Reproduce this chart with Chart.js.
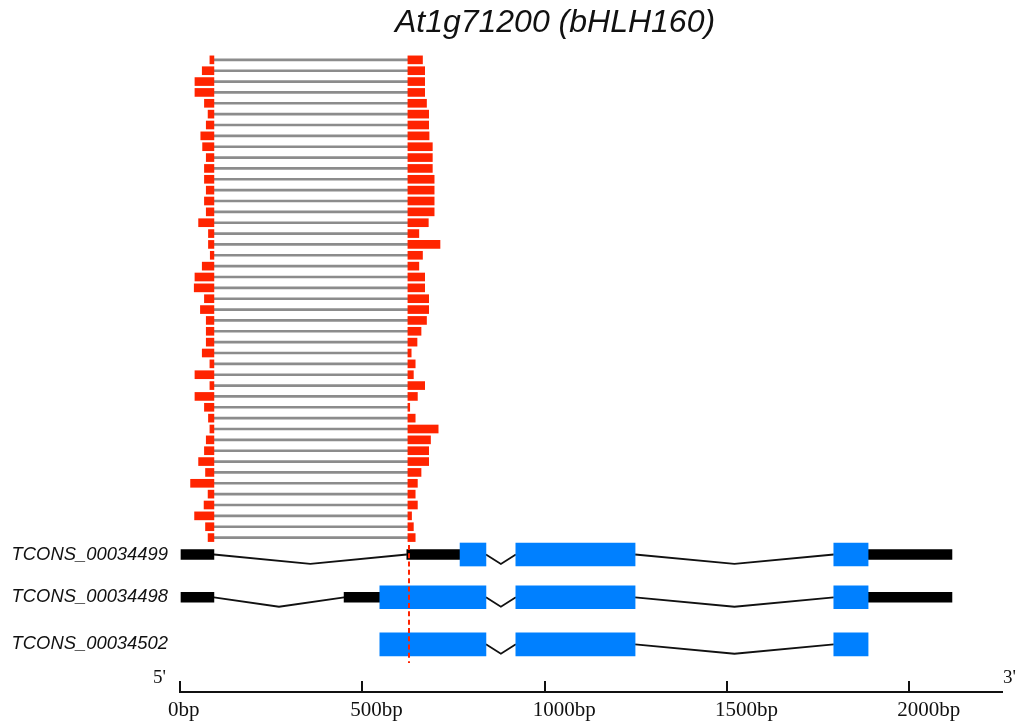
<!DOCTYPE html>
<html>
<head>
<meta charset="utf-8">
<script src="https://cdn.jsdelivr.net/npm/chart.js@4.4.1/dist/chart.umd.min.js"></script>
<style>
  html, body { margin: 0; padding: 0; background: #fff; }
  #wrap { width: 1018px; height: 727px; position: relative; }
</style>
</head>
<body>
<div id="wrap"><canvas id="chart"></canvas></div>
<script>
const geneTitle = 'At1g71200 (bHLH160)';

// junction reads, top to bottom: where the 5' piece starts and the 3' piece ends (bp)
const readStart = [82, 61, 41, 41, 67, 77, 72, 57, 62, 72, 67, 67, 72, 67, 72,
  51, 78, 78, 83, 61, 41, 39, 67, 56, 72, 72, 72, 61, 82, 41,
  82, 41, 67, 78, 82, 72, 67, 51, 70, 29, 77, 66, 40, 70, 77];
const readEnd = [665, 671, 671, 671, 676, 682, 682, 683, 692, 692, 692, 697, 697, 697, 697,
  681, 655, 713, 665, 655, 671, 671, 682, 682, 676, 661, 650, 634, 645, 640,
  671, 651, 630, 645, 708, 687, 682, 682, 661, 651, 645, 651, 635, 640, 645];
const junctionLeft = 93;
const junctionRight = 625;
const splicePos = 628;

// transcript models
const trackNames = ['TCONS_00034499', 'TCONS_00034498', 'TCONS_00034502'];
const trackY = [46.56, 50.5, 54.83];
const utrParts = [
  [[0, 93], [622, 768], [1887, 2117]],
  [[0, 93], [450, 548], [1887, 2117]],
  []
];
const cdsParts = [
  [[768, 839], [921, 1248], [1793, 1887]],
  [[548, 839], [921, 1248], [1793, 1887]],
  [[548, 839], [921, 1248], [1793, 1887]]
];

const xTicks = [0, 500, 1000, 1500, 2000];
const xMax = 2257;

const RED = '#ff2400';
const BLUE = '#0080ff';
const INK = '#111111';

const rowOf = (i) => i + 1;

const datasets = [];

// splice site marker
datasets.push({
  type: 'line',
  data: [{ x: splicePos, y: 45.68 }, { x: splicePos, y: 56.55 }],
  borderColor: RED,
  borderWidth: 2,
  borderDash: [5, 3.3],
  pointRadius: 0,
  order: 0
});

// introns drawn as chevrons between neighbouring parts
trackNames.forEach((name, t) => {
  const parts = utrParts[t].concat(cdsParts[t]).sort((a, b) => a[0] - b[0]);
  const pts = [];
  for (let k = 0; k < parts.length - 1; k++) {
    const a = parts[k][1];
    const b = parts[k + 1][0];
    if (b - a > 1) {
      pts.push({ x: a, y: trackY[t] }, { x: (a + b) / 2, y: trackY[t] + 0.87 }, { x: b, y: trackY[t] }, { x: b, y: null });
    }
  }
  datasets.push({
    type: 'line',
    data: pts,
    borderColor: INK,
    borderWidth: 1.8,
    pointRadius: 0,
    spanGaps: false,
    order: 3
  });
});

// exons
trackNames.forEach((name, t) => {
  datasets.push({
    type: 'bar',
    indexAxis: 'y',
    grouped: false,
    data: utrParts[t].map((p) => ({ x: p, y: trackY[t] })),
    backgroundColor: '#000',
    barThickness: 10,
    order: 2
  });
  datasets.push({
    type: 'bar',
    indexAxis: 'y',
    grouped: false,
    data: cdsParts[t].map((p) => ({ x: p, y: trackY[t] })),
    backgroundColor: BLUE,
    barThickness: 23,
    order: 1
  });
});

// reads
datasets.push({
  type: 'bar',
  indexAxis: 'y',
  grouped: false,
  data: readStart.map((s, i) => ({ x: [junctionLeft, junctionRight], y: rowOf(i) })),
  backgroundColor: '#8c8c8c',
  barThickness: 2,
  order: 5
});
datasets.push({
  type: 'bar',
  indexAxis: 'y',
  grouped: false,
  data: readStart.map((s, i) => ({ x: [s, junctionLeft], y: rowOf(i) })),
  backgroundColor: RED,
  barThickness: 8,
  order: 4
});
datasets.push({
  type: 'bar',
  indexAxis: 'y',
  grouped: false,
  data: readEnd.map((e, i) => ({ x: [junctionRight, e], y: rowOf(i) })),
  backgroundColor: RED,
  barThickness: 8,
  order: 4
});

// axis line, 5'/3' marks and title
const decor = {
  id: 'decor',
  afterDraw(chart) {
    const { ctx, chartArea, scales } = chart;
    const x = scales.x;
    const axisY = chartArea.bottom + 11;
    ctx.save();
    ctx.strokeStyle = INK;
    ctx.lineWidth = 2;
    ctx.beginPath();
    ctx.moveTo(x.getPixelForValue(0) - 1, axisY);
    ctx.lineTo(x.getPixelForValue(xMax), axisY);
    ctx.stroke();

    ctx.fillStyle = INK;
    ctx.font = '19px "Liberation Serif", "Times New Roman", serif';
    ctx.textBaseline = 'alphabetic';
    ctx.textAlign = 'right';
    ctx.fillText("5'", x.getPixelForValue(0) - 14, chartArea.bottom + 2);
    ctx.textAlign = 'left';
    ctx.fillText("3'", x.getPixelForValue(xMax), chartArea.bottom + 2);

    ctx.font = 'italic 32px "Liberation Sans", Arial, sans-serif';
    ctx.textAlign = 'center';
    ctx.fillText(geneTitle, 555, 32);
    ctx.restore();
  }
};

new Chart(document.getElementById('chart'), {
  type: 'bar',
  data: { datasets },
  options: {
    responsive: true,
    maintainAspectRatio: false,
    animation: false,
    events: [],
    layout: { padding: { top: 49, right: 15, bottom: 0, left: 0 } },
    plugins: { legend: { display: false }, tooltip: { enabled: false }, title: { display: false } },
    scales: {
      x: {
        type: 'linear',
        position: 'bottom',
        min: 0,
        max: xMax,
        offset: false,
        afterBuildTicks: (s) => { s.ticks = xTicks.map((v) => ({ value: v })); },
        afterFit: (s) => { s.height = 46; s.paddingLeft = 0; s.paddingRight = 0; },
        border: { display: false },
        grid: { offset: false, drawOnChartArea: false, drawTicks: true, tickLength: 11, color: INK, lineWidth: 2 },
        ticks: {
          align: 'start',
          labelOffset: -12,
          padding: 6,
          maxRotation: 0,
          autoSkip: false,
          color: INK,
          font: { family: '"Liberation Serif", "Times New Roman", serif', size: 21 },
          callback: (v) => v + 'bp'
        }
      },
      y: {
        type: 'linear',
        reverse: true,
        min: 0,
        max: 58.21,
        offset: false,
        afterBuildTicks: (s) => { s.ticks = trackY.map((v) => ({ value: v })); },
        afterFit: (s) => { s.width = 180; s.paddingTop = 0; s.paddingBottom = 0; },
        border: { display: false },
        grid: { display: false, drawTicks: false },
        ticks: {
          padding: 12,
          autoSkip: false,
          color: INK,
          font: { family: '"Liberation Sans", Arial, sans-serif', size: 18.4, style: 'italic' },
          callback: (v) => trackNames[trackY.indexOf(v)]
        }
      }
    }
  },
  plugins: [decor]
});
</script>
</body>
</html>
